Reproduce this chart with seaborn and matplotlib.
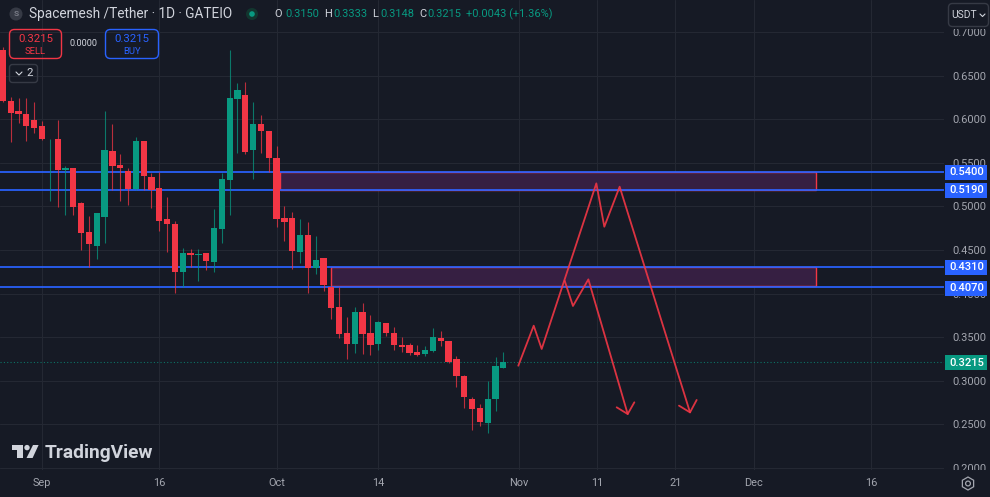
import matplotlib
matplotlib.use("Agg")
import matplotlib.pyplot as plt
import seaborn as sns
from matplotlib.patches import Rectangle, Circle, Polygon, FancyBboxPatch, RegularPolygon
from matplotlib.transforms import Affine2D
from matplotlib.lines import Line2D

days = list(range(-5, 60))
opens = [.6794,.6205,.6094,.6060,.5991,.5922,.5769,.5773,.5417,.5444,
         .5035,.4703,.4546,.4875,.5639,.5475,.5406,.5196,.5754,.5333,
         .5207,.4852,.4798,.4248,.4469,.4443,.4462,.4359,.4741,.5307,
         .6228,.6274,.5647,.5941,.5865,.5559,.4871,.4871,.4481,.4676,
         .4290,.4408,.4080,.3843,.3544,.3426,.3793,.3544,.3426,.3659,
         .3544,.3411,.3411,.3330,.3311,.3342,.3495,.3453,.3246,.3055,
         .2795,.2684,.2512,.2791,.3150]
closes = [.6213,.6075,.6056,.5922,.5899,.5769,.5777,.5417,.5444,.4997,
          .4691,.4565,.4921,.5651,.5467,.5440,.5196,.5754,.5349,.5188,
          .4836,.4798,.4248,.4469,.4443,.4454,.4378,.4749,.5310,.6247,
          .6331,.5624,.5941,.5869,.5551,.4856,.4825,.4485,.4676,.4290,
          .4385,.4095,.3839,.3537,.3426,.3793,.3537,.3414,.3670,.3552,
          .3407,.3384,.3323,.3292,.3353,.3506,.3456,.3219,.3059,.2810,
          .2680,.2524,.2795,.3170,.3215]
highs = [.6832,.6258,.6239,.6239,.6201,.5983,.5777,.5991,.5467,.5444,
         .5054,.4890,.4921,.6094,.5941,.5601,.5444,.5800,.5754,.5387,
         .5398,.5112,.4833,.4519,.4508,.4508,.4462,.4966,.5387,.6794,
         .6419,.6430,.6197,.6044,.5865,.5693,.5005,.4936,.4852,.4817,
         .4664,.4408,.4290,.4080,.3728,.3843,.3888,.3751,.3682,.3659,
         .3617,.3498,.3430,.3411,.3403,.3602,.3567,.3453,.3284,.3067,
         .2810,.2734,.3002,.3269,.3333]
lows = [.6201,.5742,.5953,.5754,.5846,.5762,.5066,.4997,.4901,.4901,
        .4500,.4309,.4397,.4584,.5188,.5066,.5016,.5188,.5188,.4982,
        .4722,.4481,.4003,.4072,.4309,.4148,.4271,.4252,.4576,.4901,
        .5609,.5601,.5318,.5616,.5398,.4760,.4607,.4278,.4355,.4003,
        .4225,.4034,.3705,.3495,.3254,.3323,.3307,.3300,.3353,.3518,
        .3353,.3330,.3300,.3284,.3288,.3330,.3403,.3208,.2933,.2684,
        .2436,.2482,.2405,.2658,.3148]

price_ticks = [.70, .65, .60, .55, .50, .45, .40, .35, .30, .25, .20]
date_ticks = [0, 15, 30, 43, 61, 71, 81, 91, 106]
date_labels = ["Sep", "16", "Oct", "14", "Nov", "11", "21", "Dec", "16"]
levels = [.5400, .5190, .4310, .4070]
last_price = .3215
zones = [(30.4, 99.0, .5185, .5400), (37.0, 99.0, .4085, .4300)]
path_up_x = [60.91, 62.88, 63.90, 70.89, 71.91, 73.87, 82.87]
path_up_y = [.3173, .3632, .3365, .5264, .4767, .5226, .2638]
head_up_x = [81.46, 82.87, 83.72]
head_up_y = [.2715, .2638, .2780]
path_low_x = [66.84, 67.90, 69.87, 74.90]
path_low_y = [.4148, .3858, .4163, .2619]
head_low_x = [73.49, 74.90, 75.75]
head_low_y = [.2696, .2619, .2753]

BG = "#161a25"
GRID = "#242833"
RED = "#f23645"
GREEN = "#089981"
BLUE = "#2962ff"
AXTXT = "#a3a6af"
TXT = "#d1d4dc"
FONT = "Roboto"

sns.set_theme(style="dark", rc={"figure.facecolor": BG, "axes.facecolor": BG,
                                "savefig.facecolor": BG, "axes.edgecolor": BG,
                                "grid.color": GRID})
plt.rcParams["font.family"] = [FONT, "DejaVu Sans"]

W, H = 990, 497
fig = plt.figure(figsize=(W / 100, H / 100), dpi=100)
ax = fig.add_axes([0, 27 / H, 944 / W, 470 / H])
ax.set_xlim(-5.371, 115.35)
ax.set_ylim(.1977, .7367)
for s in ax.spines.values():
    s.set_visible(False)
ax.set_xticks(date_ticks, date_labels)
ax.set_yticks(price_ticks, [f"{p:.4f}" for p in price_ticks])
ax.yaxis.tick_right()
ax.tick_params(axis="y", length=0, pad=6, labelsize=7.9, labelcolor=AXTXT)
ax.tick_params(axis="x", length=0, pad=5.5, labelsize=7.9, labelcolor=AXTXT)
ax.grid(True, color=GRID, lw=0.8, zorder=0)
ax.set_axisbelow(True)

for x0, x1, y0, y1 in zones:
    ax.add_patch(Rectangle((x0, y0), x1 - x0, y1 - y0, fc="#361f42", ec=RED, lw=1.0, zorder=1.5))
for lv in levels:
    ax.axhline(lv, color=BLUE, lw=1.25, zorder=2)
ax.axhline(last_price, color=GREEN, lw=0.8, ls=(0, (1, 2)), alpha=0.7, zorder=2)

colors = [GREEN if c >= o else RED for o, c in zip(opens, closes)]
ax.vlines(days, lows, highs, colors=colors, lw=0.8, alpha=0.75, zorder=3)
ax.bar(days, [abs(c - o) for o, c in zip(opens, closes)],
       bottom=[min(o, c) for o, c in zip(opens, closes)],
       width=0.8, color=colors, linewidth=0, zorder=3.1)

for xs, ys in [(path_up_x, path_up_y), (head_up_x, head_up_y),
               (path_low_x, path_low_y), (head_low_x, head_low_y)]:
    sns.lineplot(x=xs, y=ys, sort=False, estimator=None, color=RED, lw=1.3,
                 alpha=0.9, ax=ax, zorder=4, legend=False)
ax.set_xlabel("")
ax.set_ylabel("")

# pixel coordinates (origin top-left) for the interface furniture
PX = Affine2D().scale(1 / W, -1 / H).translate(0, 1) + fig.transFigure

def ptext(x, y, s, color=TXT, size=8, ha="left", weight="normal", zorder=20, **kw):
    fig.text(x, y, s, color=color, fontsize=size, ha=ha, va="center", weight=weight,
             transform=PX, zorder=zorder, **kw)

def round_box(x0, y0, x1, y1, ec, fc="none", lw=1.0, r=5, zorder=15):
    fig.add_artist(FancyBboxPatch((x0 + r, y0 + r), x1 - x0 - 2 * r, y1 - y0 - 2 * r,
                                  boxstyle=f"round,pad={r},rounding_size={r}", ec=ec, fc=fc, lw=lw,
                                  transform=PX, zorder=zorder))

# clip price labels at the scale's ends
fig.add_artist(Rectangle((944, 0), 46, 29, fc=BG, ec="none", transform=PX, zorder=5))
fig.add_artist(Rectangle((944, 470), 46, 27, fc=BG, ec="none", transform=PX, zorder=5))

# price tags
for p in levels + [last_price]:
    c = GREEN if p == last_price else BLUE
    py = 468.6 - (p - .2) * 872
    fig.add_artist(Rectangle((945, py - 7.5), 42, 15, fc=c, ec="none", transform=PX, zorder=8))
    ptext(967, py, f"{p:.4f}", color="#ffffff", size=8, ha="center", weight="medium", zorder=9)

# header
fig.add_artist(Circle((16, 14), 6.5, fc="#363a45", ec="none", transform=PX, zorder=15))
ptext(16, 14, "S", color="#787b86", size=6, ha="center", weight="bold")
ptext(29, 14, "Spacemesh /Tether · 1D · GATEIO", size=9.8)
fig.add_artist(Circle((252, 14), 6, fc="#12362f", ec="none", transform=PX, zorder=15))
fig.add_artist(Circle((252, 14), 2.8, fc=GREEN, ec="none", transform=PX, zorder=16))
OHLC = 7.9
ptext(274, 14, "O", size=OHLC)
ptext(285, 14, "0.3150", color=GREEN, size=OHLC)
ptext(324, 14, "H", size=OHLC)
ptext(333, 14, "0.3333", color=GREEN, size=OHLC)
ptext(372, 14, "L", size=OHLC)
ptext(380, 14, "0.3148", color=GREEN, size=OHLC)
ptext(419, 14, "C", size=OHLC)
ptext(427, 14, "0.3215", color=GREEN, size=OHLC)
ptext(466, 14, "+0.0043 (+1.36%)", color=GREEN, size=OHLC)

# order buttons
round_box(9.5, 29.5, 61.5, 58.5, RED)
ptext(35.5, 39, "0.3215", color=RED, size=8.2, ha="center")
ptext(35.5, 52, "SELL", color=RED, size=6.8, ha="center")
ptext(84, 44, "0.0000", color=TXT, size=6.6, ha="center")
round_box(105.5, 29.5, 158.5, 58.5, BLUE)
ptext(132, 39, "0.3215", color=BLUE, size=8.2, ha="center")
ptext(132, 52, "BUY", color=BLUE, size=6.8, ha="center")
round_box(9.5, 64.5, 37.5, 82.5, "#363a45", r=3)
fig.add_artist(Line2D([16, 19, 22], [72, 75, 72], color=TXT, lw=0.8, transform=PX, zorder=16))
ptext(30, 73.5, "2", size=8.2, ha="center")

# currency button and settings icon
round_box(948.5, 3.5, 988.5, 26.5, "#363a45", fc=BG, r=4, zorder=10)
ptext(951, 15, "USDT", size=7.4)
fig.add_artist(Line2D([980, 982.5, 985], [14, 16.5, 14], color=TXT, lw=0.8, transform=PX, zorder=16))
fig.add_artist(RegularPolygon((968, 483.5), 6, radius=6.5, fc="none", ec=AXTXT, lw=0.9, transform=PX, zorder=16))
fig.add_artist(Circle((968, 483.5), 2.4, fc="none", ec=AXTXT, lw=0.9, transform=PX, zorder=16))

# watermark
LOGO = "#d1d4dc"
fig.add_artist(Polygon([(12, 445), (23, 445), (23, 458), (17, 458), (17, 450), (12, 450)],
                       fc=LOGO, ec="none", transform=PX, zorder=15))
fig.add_artist(Circle((27, 447.6), 2.7, fc=LOGO, ec="none", transform=PX, zorder=15))
fig.add_artist(Polygon([(33, 445), (38.6, 445), (32.6, 458), (26.5, 458)],
                       fc=LOGO, ec="none", transform=PX, zorder=15))
ptext(45, 452.5, "TradingView", color=LOGO, size=13.8, weight="bold")

fig.savefig("out.png", dpi=100)
